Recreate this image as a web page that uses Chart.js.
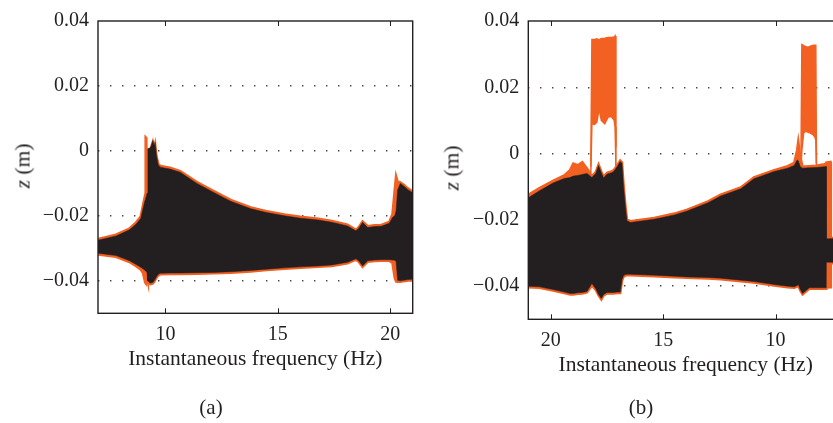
<!DOCTYPE html>
<html>
<head>
<meta charset="utf-8">
<script src="https://cdn.jsdelivr.net/npm/chart.js@4.4.1/dist/chart.umd.min.js"></script>
<style>
  html, body { margin: 0; padding: 0; background: #fff; overflow: hidden; }
  body { width: 833px; height: 423px; position: relative; font-family: "Liberation Serif", serif; color: #231f20; }
  .panel { position: absolute; top: 0; height: 423px; }
  .lbl { position: absolute; font-size: 21px; white-space: nowrap; transform: translate(-50%, -50%); }
  .ytitle { transform: translate(-50%, -50%) rotate(-90deg); font-size: 21.5px; }
</style>
</head>
<body>
<div class="panel" style="left:0;width:420px"><canvas id="chartA"></canvas></div>
<div class="panel" style="left:420px;width:440px"><canvas id="chartB"></canvas></div>
<div class="lbl ytitle" style="left:23px;top:166px"><i>z</i> (m)</div>
<div class="lbl ytitle" style="left:452px;top:168px"><i>z</i> (m)</div>
<div class="lbl" style="left:211px;top:407px">(a)</div>
<div class="lbl" style="left:641px;top:407px">(b)</div>
<script>
// axis ticks shared by both panels
var xTicks = [10, 15, 20];
var yTicks = [-0.04, -0.02, 0, 0.02, 0.04];
var yTickLabels = ['\u22120.04', '\u22120.02', '0', '0.02', '0.04'];

// panel (a): envelope of the response, sweep up
var aFreq = [7.0, 7.8, 8.4, 8.7, 8.9, 9.0, 9.1, 9.12, 9.15, 9.18, 9.22, 9.28, 9.35, 9.44, 9.5, 9.54, 9.6, 9.68, 9.77, 10.2, 10.66, 11.4, 12.15, 12.9, 13.8, 14.5, 15.3, 16.0, 16.8, 17.4, 18.1, 18.47, 18.6, 18.77, 19.0, 19.3, 19.6, 19.96, 20.1, 20.2, 20.26, 20.33, 20.45, 20.6, 20.8, 21.0];
var aBlackHi = [-0.0275, -0.0262, -0.0243, -0.0225, -0.0208, -0.0178, -0.0150, -0.0145, -0.0140, -0.0130, 0.0007, 0.0008, 0.0012, 0.0032, 0.0015, 0.0026, -0.0013, -0.0043, -0.0050, -0.0056, -0.0066, -0.0100, -0.0128, -0.0155, -0.0178, -0.0190, -0.0200, -0.0207, -0.0213, -0.0220, -0.0231, -0.0246, -0.0238, -0.0220, -0.0236, -0.0233, -0.0232, -0.0223, -0.0205, -0.0200, -0.0185, -0.0120, -0.0100, -0.0108, -0.0120, -0.0129];
var aBlackLo = [-0.0315, -0.0322, -0.0338, -0.0350, -0.0358, -0.0363, -0.0368, -0.0370, -0.0372, -0.0374, -0.0400, -0.0405, -0.0407, -0.0405, -0.0400, -0.0395, -0.0388, -0.0380, -0.0377, -0.0376, -0.0376, -0.0375, -0.0374, -0.0372, -0.0368, -0.0364, -0.0360, -0.0357, -0.0354, -0.0351, -0.0343, -0.0332, -0.0338, -0.0354, -0.0338, -0.0336, -0.0335, -0.0335, -0.0336, -0.0337, -0.0340, -0.0398, -0.0400, -0.0398, -0.0396, -0.0395];
var aOrangeHi = [-0.0271, -0.0258, -0.0239, -0.0220, -0.0202, -0.0168, -0.0135, 0.0042, 0.0040, -0.0120, 0.0003, 0.0004, 0.0008, 0.0028, 0.0011, 0.0022, -0.0016, -0.0040, -0.0046, -0.0052, -0.0062, -0.0096, -0.0124, -0.0151, -0.0174, -0.0186, -0.0196, -0.0203, -0.0209, -0.0216, -0.0227, -0.0243, -0.0235, -0.0217, -0.0232, -0.0229, -0.0228, -0.0219, -0.0195, -0.0120, -0.0078, -0.0095, -0.0097, -0.0104, -0.0116, -0.0125];
var aOrangeLo = [-0.0319, -0.0326, -0.0342, -0.0355, -0.0365, -0.0375, -0.0405, -0.0407, -0.0407, -0.0390, -0.0403, -0.0408, -0.0410, -0.0408, -0.0403, -0.0398, -0.0391, -0.0383, -0.0380, -0.0379, -0.0379, -0.0378, -0.0377, -0.0375, -0.0371, -0.0367, -0.0363, -0.0360, -0.0357, -0.0354, -0.0346, -0.0335, -0.0341, -0.0357, -0.0341, -0.0339, -0.0338, -0.0338, -0.0345, -0.0390, -0.0402, -0.0403, -0.0403, -0.0401, -0.0399, -0.0398];

// panel (b): envelope of the response, sweep down
var bFreq = [21.0, 20.5, 19.9, 19.4, 19.14, 19.0, 18.8, 18.6, 18.39, 18.17, 18.0, 17.875, 17.75, 17.65, 17.5, 17.3, 17.2, 17.05, 16.91, 16.83, 16.76, 16.68, 16.61, 16.46, 15.4, 14.5, 13.93, 13.0, 12.44, 11.55, 10.96, 10.06, 9.46, 9.17, 9.04, 8.99, 8.9, 8.8, 8.5, 8.2, 7.83, 7.75, 7.74, 7.56, 7.54, 7.0];
var bBlackHi = [-0.0133, -0.0112, -0.0089, -0.0075, -0.0072, -0.0068, -0.0066, -0.0063, -0.0060, -0.0072, -0.0060, -0.0036, -0.0058, -0.0074, -0.0062, -0.0058, -0.0054, -0.0040, -0.0024, -0.0030, -0.0100, -0.0160, -0.0203, -0.0208, -0.0198, -0.0185, -0.0173, -0.0148, -0.0128, -0.0106, -0.0076, -0.0054, -0.0044, -0.0036, -0.0019, -0.0022, -0.0040, -0.0044, -0.0043, -0.0042, -0.0040, -0.0039, -0.0257, -0.0257, -0.0257, -0.0257];
var bBlackLo = [-0.0400, -0.0402, -0.0410, -0.0418, -0.0422, -0.0422, -0.0420, -0.0419, -0.0416, -0.0392, -0.0408, -0.0425, -0.0437, -0.0425, -0.0419, -0.0419, -0.0419, -0.0418, -0.0418, -0.0380, -0.0368, -0.0365, -0.0364, -0.0364, -0.0367, -0.0370, -0.0372, -0.0374, -0.0376, -0.0382, -0.0386, -0.0395, -0.0400, -0.0402, -0.0398, -0.0395, -0.0410, -0.0422, -0.0405, -0.0405, -0.0405, -0.0405, -0.0328, -0.0328, -0.0328, -0.0328];
var bOrangeHi = [-0.0124, -0.0104, -0.0082, -0.0066, -0.0050, -0.0030, -0.0035, -0.0026, -0.0045, -0.0068, -0.0056, -0.0033, -0.0055, -0.0070, -0.0058, -0.0054, -0.0050, -0.0036, -0.0021, -0.0027, -0.0097, -0.0157, -0.0199, -0.0204, -0.0194, -0.0181, -0.0169, -0.0144, -0.0124, -0.0102, -0.0072, -0.0050, -0.0038, -0.0028, 0.0010, 0.0036, -0.0010, -0.0040, -0.0038, -0.0037, -0.0032, -0.0030, -0.0027, -0.0025, -0.0255, -0.0255];
var bOrangeLo = [-0.0403, -0.0405, -0.0413, -0.0421, -0.0425, -0.0425, -0.0423, -0.0422, -0.0419, -0.0398, -0.0411, -0.0428, -0.0440, -0.0428, -0.0422, -0.0422, -0.0422, -0.0421, -0.0421, -0.0383, -0.0371, -0.0368, -0.0367, -0.0367, -0.0370, -0.0373, -0.0375, -0.0377, -0.0379, -0.0385, -0.0389, -0.0398, -0.0403, -0.0405, -0.0401, -0.0398, -0.0413, -0.0425, -0.0408, -0.0408, -0.0408, -0.0408, -0.0404, -0.0403, -0.0331, -0.0331];

// panel (b): the two jumps of the orange run
var burst1Freq = [18.22, 18.17, 18.05, 17.95, 17.85, 17.75, 17.6, 17.45, 17.3, 17.18, 17.14, 17.1];
var burst1Hi = [-0.0040, 0.0344, 0.0344, 0.0346, 0.0343, 0.0347, 0.0348, 0.0350, 0.0350, 0.0352, 0.0355, 0.0020];
var burst1Lo = [-0.0060, 0.0090, 0.0088, 0.0095, 0.0135, 0.0100, 0.0090, 0.0110, 0.0112, 0.0100, 0.0080, -0.0040];
var burst2Freq = [8.87, 8.83, 8.75, 8.65, 8.55, 8.45, 8.35, 8.25, 8.21, 8.18];
var burst2Hi = [-0.0020, 0.0329, 0.0326, 0.0322, 0.0321, 0.0324, 0.0326, 0.0327, 0.0327, -0.0030];
var burst2Lo = [-0.0040, 0.0010, 0.0062, 0.0068, 0.0064, 0.0062, 0.0058, 0.0050, 0.0040, -0.0045];

var BLACK = '#231f20';
var ORANGE = '#f26122';
var tickFont = { family: 'Liberation Serif', size: 20 };
var titleFont = { family: 'Liberation Serif', size: 21.5 };

function pts(xs, ys) {
    return xs.map(function(x, i) { return { x: x, y: ys[i] }; });
}

// a filled band between two series, the upper one fills down to the next dataset
function band(xs, hi, lo, color, width) {
    var common = { borderColor: color, backgroundColor: color, borderWidth: width, pointRadius: 0, tension: 0 };
    return [
        Object.assign({ data: pts(xs, hi), fill: '+1' }, common),
        Object.assign({ data: pts(xs, lo), fill: false }, common)
    ];
}

// box round the plot with inward tick marks, like the original figure
var boxPlugin = {
    id: 'box',
    afterDatasetsDraw: function(chart) {
        var a = chart.chartArea, c = chart.ctx, xs = chart.scales.x;
        c.save();
        c.strokeStyle = BLACK;
        c.lineWidth = 1.4;
        c.strokeRect(a.left, a.top, a.right - a.left, a.bottom - a.top);
        c.lineWidth = 1;
        xTicks.forEach(function(v) {
            var px = Math.round(xs.getPixelForValue(v)) + 0.5;
            c.beginPath();
            c.moveTo(px, a.bottom); c.lineTo(px, a.bottom - 5);
            c.moveTo(px, a.top); c.lineTo(px, a.top + 5);
            c.stroke();
        });
        c.restore();
    }
};

function makePanel(id, datasets, reverse, pad) {
    var ctx = document.getElementById(id).getContext('2d');
    return new Chart(ctx, {
        type: 'line',
        data: { datasets: datasets },
        options: {
            responsive: true,
            maintainAspectRatio: false,
            animation: false,
            layout: { padding: pad },
            plugins: { legend: { display: false }, tooltip: { enabled: false } },
            scales: {
                x: {
                    type: 'linear',
                    min: 7,
                    max: 21,
                    reverse: reverse,
                    afterBuildTicks: function(s) { s.ticks = xTicks.map(function(v) { return { value: v }; }); },
                    afterFit: function(s) { s.height = 62; },
                    grid: { display: false },
                    border: { display: false },
                    ticks: { font: tickFont, color: BLACK, padding: 1, maxRotation: 0 },
                    title: { display: true, text: 'Instantaneous frequency (Hz)', font: titleFont, color: BLACK, padding: { top: 0, bottom: 3 } }
                },
                y: {
                    min: -0.05,
                    max: 0.04,
                    afterBuildTicks: function(s) { s.ticks = yTicks.map(function(v) { return { value: v }; }); },
                    afterFit: function(s) { s.width = 70; },
                    grid: {
                        drawTicks: false,
                        lineWidth: 1.4,
                        color: function(c) { return c.tick && c.tick.value === 0.04 ? 'rgba(0,0,0,0)' : '#444'; }
                    },
                    border: { display: false, dash: [1.4, 10.6] },
                    ticks: {
                        font: tickFont,
                        color: BLACK,
                        padding: 9,
                        callback: function(v) { return yTickLabels[yTicks.indexOf(v)]; }
                    }
                }
            }
        },
        plugins: [boxPlugin]
    });
}

// black run is drawn over the orange one
makePanel('chartA',
    band(aFreq, aBlackHi, aBlackLo, BLACK, 0.5)
        .concat(band(aFreq, aOrangeHi, aOrangeLo, ORANGE, 2.5)),
    false,
    { left: 28, right: 7.3, top: 16, bottom: 47.7 });

makePanel('chartB',
    band(bFreq, bBlackHi, bBlackLo, BLACK, 0.5)
        .concat(band(bFreq, bOrangeHi, bOrangeLo, ORANGE, 2.5))
        .concat(band(burst1Freq, burst1Hi, burst1Lo, ORANGE, 1.5))
        .concat(band(burst2Freq, burst2Hi, burst2Lo, ORANGE, 1.5)),
    true,
    { left: 38.3, right: 17, top: 16, bottom: 41.7 });
</script>
</body>
</html>
